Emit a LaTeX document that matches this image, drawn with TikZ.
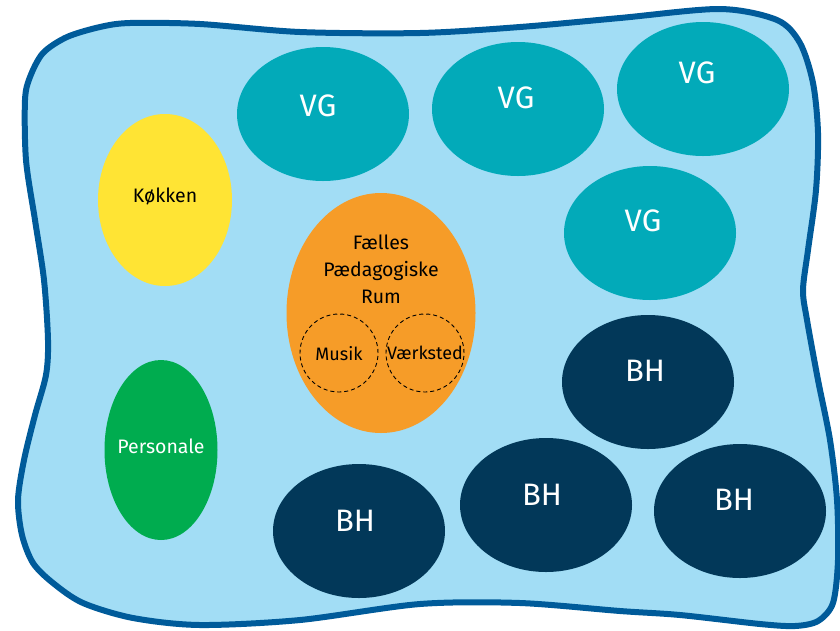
\documentclass[tikz,border=0pt]{standalone}
\usepackage{fontspec}
\setmainfont{Fira Sans}
\usetikzlibrary{shapes.geometric}

\definecolor{wallblue}{RGB}{0,91,154}
\definecolor{floorblue}{RGB}{162,221,245}
\definecolor{vgteal}{RGB}{2,170,185}
\definecolor{bhnavy}{RGB}{2,56,89}
\definecolor{faellesorange}{RGB}{246,156,40}
\definecolor{kokyellow}{RGB}{255,228,52}
\definecolor{persgreen}{RGB}{0,172,79}

\tikzset{
  wall/.style={draw=wallblue,line width=6pt,fill=floorblue},
  room/.style={ellipse,inner sep=0pt,outer sep=0pt,minimum width=172pt,minimum height=134pt},
  vgroom/.style={room,fill=vgteal},
  bhroom/.style={room,fill=bhnavy},
  zone/.style={circle,draw=black,line width=0.9pt,dash pattern=on 4pt off 3pt,inner sep=0pt,minimum size=78pt},
  biglabel/.style={text=white,font=\fontsize{31}{37}\selectfont,text depth=0pt},
  roomlabel/.style={font=\fontsize{19.5}{27}\selectfont,text depth=0pt},
  zonelabel/.style={font=\fontsize{18}{22}\selectfont,text depth=0pt,inner sep=0pt}
}

\begin{document}
\begin{tikzpicture}[x=1pt,y=-1pt]
\useasboundingbox (0,0) rectangle (840,630);

% outer wall
\draw[wall] plot[smooth cycle,tension=0.5] coordinates {
  (130,23) (200,24) (300,32) (420,33) (520,27) (620,18) (720,9) (777,20)
  (800,43) (813,83) (818,133) (816,190) (808,250) (803,290) (807,320)
  (818,380) (830,440) (837,500) (838,560) (833,603) (818,621) (795,626)
  (760,624) (680,615) (620,611) (520,603) (420,604) (300,620) (200,625)
  (133,618) (83,603) (53,583) (33,563) (22,535) (18,500) (24,460) (35,415)
  (46,375) (48,340) (44,280) (35,220) (26,160) (25,100) (30,77) (43,53)
  (67,37) (100,27)};

% kitchen and staff
\node [room,fill=kokyellow,minimum width=134pt,minimum height=172pt] (kok) at (165,200) {};
\node [roomlabel] (kok-1) at ([yshift=5pt]kok.center) {Køkken};

\node [room,fill=persgreen,minimum width=113pt,minimum height=180pt] (pers) at (161,450) {};
\node [roomlabel,text=white] (pers-1) at ([yshift=4pt]pers.center) {Personale};

% common room
\node [room,fill=faellesorange,minimum width=189pt,minimum height=240pt] (faelles) at (381,313) {};
\node [align=center,font=\fontsize{19.5}{27}\selectfont] (faelles-1) at ([yshift=44pt]faelles.center) {Fælles\\Pædagogiske\\Rum};
\node [zone] (musik) at ([xshift=-42pt,yshift=-40pt]faelles.center) {};
\node [zone] (vaerk) at ([xshift=44pt,yshift=-40pt]faelles.center) {};
\node [zonelabel] (musik-1) at (musik.center) {Musik};
\node [zonelabel] (vaerk-1) at (vaerk.center) {Værksted};

% VG
\node [vgroom] (vg1) at (323,114) {};
\node [biglabel] (vg1-1) at ([xshift=-5pt,yshift=8pt]vg1.center) {VG};
\node [vgroom] (vg2) at (518,109) {};
\node [biglabel] (vg2-1) at ([xshift=-2pt,yshift=11pt]vg2.center) {VG};
\node [vgroom] (vg3) at (703,89) {};
\node [biglabel] (vg3-1) at ([xshift=-6pt,yshift=16pt]vg3.center) {VG};
\node [vgroom] (vg4) at (650,233) {};
\node [biglabel] (vg4-1) at ([xshift=-7pt,yshift=12pt]vg4.center) {VG};

% BH
\node [bhroom] (bh1) at (648,382) {};
\node [biglabel] (bh1-1) at ([xshift=-3pt,yshift=11pt]bh1.center) {BH};
\node [bhroom] (bh2) at (359,531) {};
\node [biglabel] (bh2-1) at ([xshift=-4pt,yshift=10pt]bh2.center) {BH};
\node [bhroom] (bh3) at (546,505) {};
\node [biglabel] (bh3-1) at ([xshift=-4pt,yshift=10pt]bh3.center) {BH};
\node [bhroom] (bh4) at (740,511) {};
\node [biglabel] (bh4-1) at ([xshift=-6pt,yshift=11pt]bh4.center) {BH};

\end{tikzpicture}
\end{document}
